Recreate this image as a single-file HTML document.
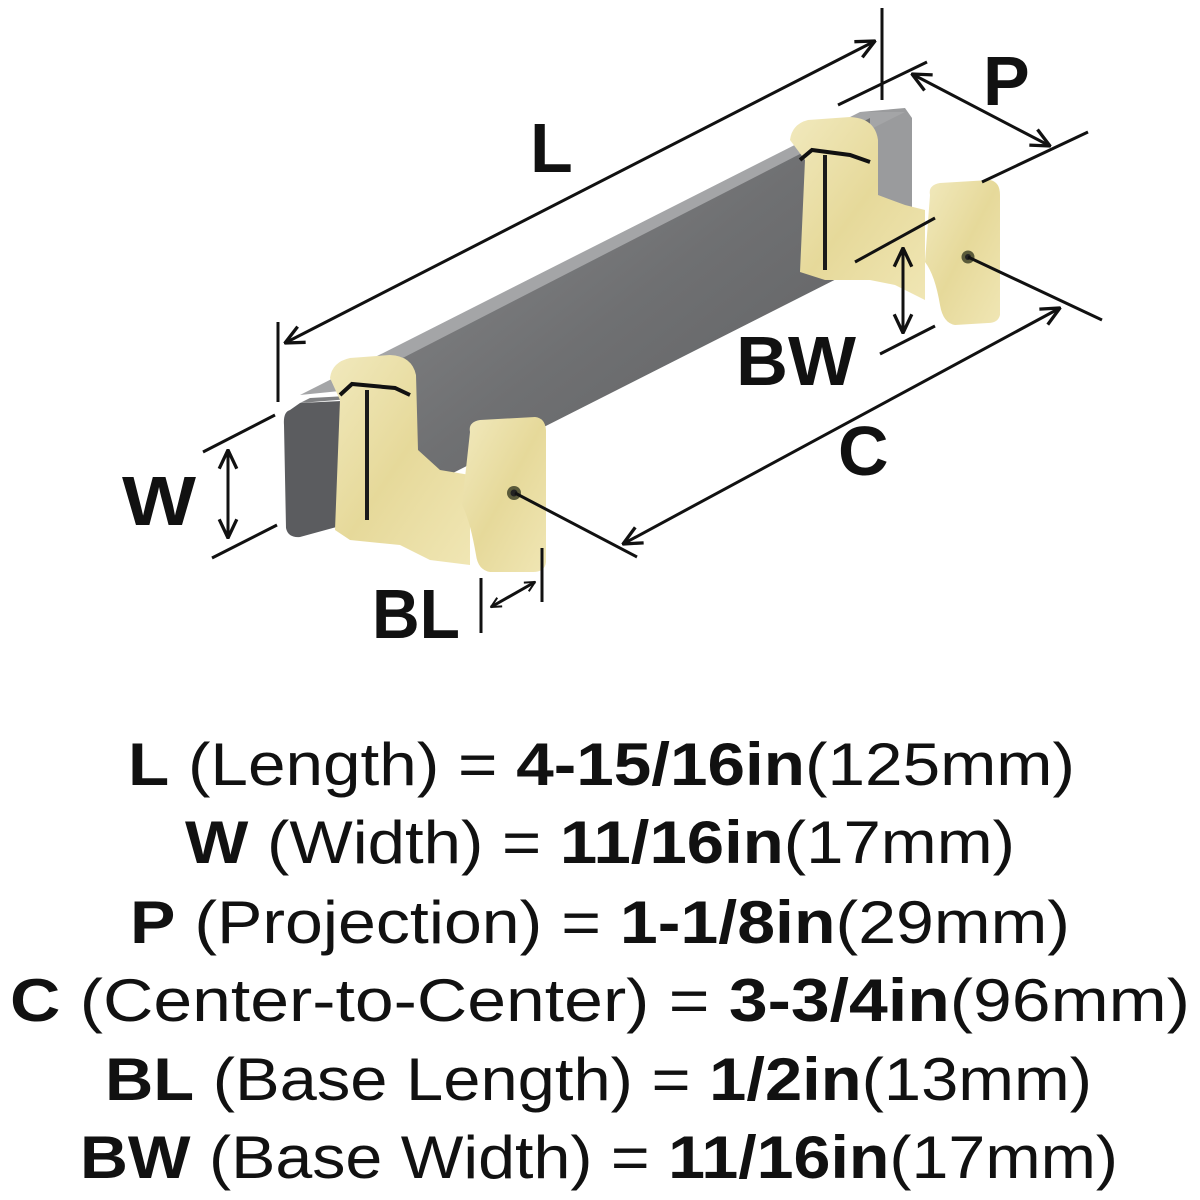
<!DOCTYPE html>
<html><head><meta charset="utf-8"><style>
html,body{margin:0;padding:0;background:#fff;width:1200px;height:1200px;overflow:hidden}
svg{display:block}
</style></head><body>
<svg width="1200" height="1200" viewBox="0 0 1200 1200" xmlns="http://www.w3.org/2000/svg">
<defs>
<linearGradient id="gb" x1="0" y1="0" x2="1" y2="1">
<stop offset="0" stop-color="#8d8e90"/><stop offset="0.5" stop-color="#6f7072"/><stop offset="1" stop-color="#5c5d5f"/></linearGradient>
<linearGradient id="gold" x1="0" y1="0" x2="1" y2="1">
<stop offset="0" stop-color="#f1e9bd"/><stop offset="0.5" stop-color="#e6d99a"/><stop offset="1" stop-color="#f0e6b4"/></linearGradient>
<marker id="ah" viewBox="0 0 12 12" refX="11" refY="6" markerWidth="12" markerHeight="12" markerUnits="userSpaceOnUse" orient="auto-start-reverse">
<path d="M1,1 L11,6 L1,11" fill="none" stroke="#111" stroke-width="2"/></marker>
<marker id="ah2" viewBox="0 0 20 20" refX="19" refY="10" markerWidth="22" markerHeight="22" markerUnits="userSpaceOnUse" orient="auto-start-reverse">
<path d="M2,2 L19,10 L2,18" fill="none" stroke="#111" stroke-width="3"/></marker>
</defs>

<polygon points="860,112 905,108 912,118 912,262 870,266" fill="#9a9b9d"/>
<polygon points="300,395 860,112 905,112 350,390" fill="#a4a5a7"/>
<polygon points="350,385 870,118 870,262 360,520" fill="url(#gb)"/>
<path d="M290,410 Q283,412 284,425 L286,528 Q288,538 300,537 L362,520 L362,400 L300,403 Z" fill="#5b5c5f"/>
<polygon points="300,403 362,398 366,395 310,398" fill="#7f8082"/>

<path d="M330,378 Q332,362 350,358 L390,355 Q412,356 416,375 L418,450 L440,470 L470,475 L470,565 L430,560 L400,545 L350,540 L335,530 L340,400 Z" fill="url(#gold)"/>
<path d="M340,395 L352,384 L395,388 L410,395" fill="none" stroke="#111" stroke-width="4"/>
<line x1="367" y1="390" x2="367" y2="520" stroke="#1a1a1a" stroke-width="4"/>
<path d="M470,432 Q468,422 480,420 L535,417 Q545,418 546,430 L546,562 Q545,572 533,572 L490,572 Q478,570 476,555 Q470,520 462,505 Z" fill="url(#gold)"/>
<circle cx="514" cy="493" r="7" fill="#5a5a3a"/><circle cx="514" cy="493" r="3.5" fill="#222"/>

<path d="M790,140 Q792,124 808,120 L850,117 Q875,118 878,140 L878,195 L905,205 L925,210 L925,300 L895,285 L870,280 L825,280 L800,272 L805,160 Z" fill="url(#gold)"/>
<path d="M800,160 L812,150 L850,155 L870,162" fill="none" stroke="#111" stroke-width="4"/>
<line x1="825" y1="155" x2="825" y2="270" stroke="#1a1a1a" stroke-width="4"/>
<path d="M930,195 Q928,185 940,183 L990,180 Q1000,182 1000,195 L1000,315 Q998,323 988,323 L955,325 Q943,323 940,305 Q935,275 925,262 Z" fill="url(#gold)"/>
<circle cx="968" cy="257" r="6.5" fill="#5a5a3a"/><circle cx="968" cy="257" r="3" fill="#222"/>

<g stroke="#111" stroke-width="3" fill="none" stroke-linecap="butt">
<line x1="285" y1="343" x2="875" y2="41" marker-start="url(#ah2)" marker-end="url(#ah2)"/>
<line x1="278" y1="322" x2="278" y2="402"/>
<line x1="882" y1="8" x2="882" y2="100"/>
<line x1="912" y1="74" x2="1050" y2="146" marker-start="url(#ah2)" marker-end="url(#ah2)"/>
<line x1="838" y1="105" x2="927" y2="62"/>
<line x1="982" y1="182" x2="1088" y2="132"/>
<line x1="903" y1="248" x2="903" y2="333" marker-start="url(#ah2)" marker-end="url(#ah2)"/>
<line x1="855" y1="262" x2="935" y2="218"/>
<line x1="880" y1="354" x2="935" y2="326"/>
<line x1="623" y1="544" x2="1060" y2="308" marker-start="url(#ah2)" marker-end="url(#ah2)"/>
<line x1="515" y1="493" x2="637" y2="557"/>
<line x1="968" y1="257" x2="1102" y2="320"/>
<line x1="228" y1="450" x2="228" y2="538" marker-start="url(#ah2)" marker-end="url(#ah2)"/>
<line x1="203" y1="452" x2="275" y2="415"/>
<line x1="212" y1="558" x2="277" y2="525"/>
<line x1="491" y1="607" x2="535" y2="582" marker-start="url(#ah)" marker-end="url(#ah)"/>
<line x1="481" y1="578" x2="481" y2="633"/>
<line x1="542" y1="548" x2="542" y2="602"/>
</g>

<g font-family="Liberation Sans, sans-serif" font-weight="bold" fill="#111" font-size="70">
<text x="530" y="172">L</text>
<text x="983" y="105">P</text>
<text x="736" y="385" textLength="120" lengthAdjust="spacingAndGlyphs">BW</text>
<text x="838" y="475">C</text>
<text x="122" y="525" textLength="74" lengthAdjust="spacingAndGlyphs">W</text>
<text x="372" y="638" textLength="88" lengthAdjust="spacingAndGlyphs">BL</text>
</g>

<g font-family="Liberation Sans, sans-serif" fill="#111" font-size="60">
<text x="128" y="785" textLength="947" lengthAdjust="spacingAndGlyphs"><tspan font-weight="bold">L</tspan> (Length) = <tspan font-weight="bold">4-15/16in</tspan>(125mm)</text>
<text x="185" y="863" textLength="830" lengthAdjust="spacingAndGlyphs"><tspan font-weight="bold">W</tspan> (Width) = <tspan font-weight="bold">11/16in</tspan>(17mm)</text>
<text x="130" y="943" textLength="940" lengthAdjust="spacingAndGlyphs"><tspan font-weight="bold">P</tspan> (Projection) = <tspan font-weight="bold">1-1/8in</tspan>(29mm)</text>
<text x="10" y="1021" textLength="1180" lengthAdjust="spacingAndGlyphs"><tspan font-weight="bold">C</tspan> (Center-to-Center) = <tspan font-weight="bold">3-3/4in</tspan>(96mm)</text>
<text x="105" y="1100" textLength="987" lengthAdjust="spacingAndGlyphs"><tspan font-weight="bold">BL</tspan> (Base Length) = <tspan font-weight="bold">1/2in</tspan>(13mm)</text>
<text x="80" y="1178" textLength="1038" lengthAdjust="spacingAndGlyphs"><tspan font-weight="bold">BW</tspan> (Base Width) = <tspan font-weight="bold">11/16in</tspan>(17mm)</text>
</g>
</svg>
</body></html>
